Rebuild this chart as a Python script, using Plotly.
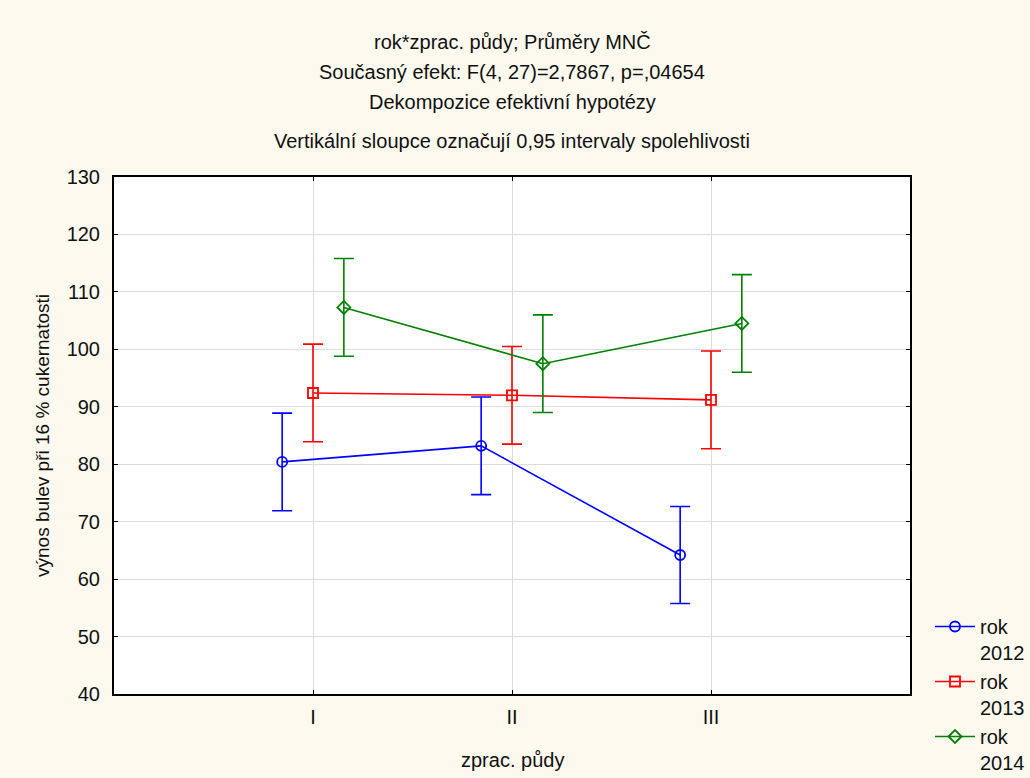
import plotly.graph_objects as go

# Soil-treatment levels and yearly least-squares means with 0.95 CI half-widths
categories = ["I", "II", "III"]
years = ["2012", "2013", "2014"]
means_2012 = [80.4, 83.2, 64.2]
means_2013 = [92.4, 92.0, 91.2]
means_2014 = [107.3, 97.5, 104.5]
ci_2012 = [8.5, 8.5, 8.45]
ci_2013 = [8.5, 8.5, 8.5]
ci_2014 = [8.5, 8.5, 8.5]
y_ticks = [40, 50, 60, 70, 80, 90, 100, 110, 120, 130]

series_means = [means_2012, means_2013, means_2014]
series_ci = [ci_2012, ci_2013, ci_2014]
colors = ["#0000FF", "#FF0000", "#008000"]
symbols = ["circle-open", "square-open", "diamond-open"]
dodge = [-0.155, 0.0, 0.155]

FONT = "Liberation Sans, Arial, sans-serif"

fig = go.Figure()
base_x = list(range(1, len(categories) + 1))
for year, means, ci, color, sym, dx in zip(years, series_means, series_ci,
                                           colors, symbols, dodge):
    fig.add_trace(go.Scatter(
        x=[b + dx for b in base_x],
        y=means,
        mode="lines+markers",
        name="rok<br>" + year,
        line=dict(color=color, width=1.6),
        marker=dict(symbol=sym, size=10, color=color,
                    line=dict(color=color, width=1.8)),
        error_y=dict(type="data", array=ci, visible=True,
                     color=color, thickness=1.6, width=10),
    ))

W, H = 1030, 778
L, R, T, B = 114, 120, 177, 84
plot_w = W - L - R
plot_h = H - T - B


def py(pix):
    # convert a pixel row to paper coordinates
    return (H - B - pix) / plot_h


def px(pix):
    # convert a pixel column to paper coordinates
    return (pix - L) / plot_w


titles = [
    ("rok*zprac. půdy; Průměry MNČ", 42),
    ("Současný efekt: F(4, 27)=2,7867, p=,04654", 72),
    ("Dekompozice efektivní hypotézy", 102),
    ("Vertikální sloupce označují 0,95 intervaly spolehlivosti", 141),
]
for text, row in titles:
    fig.add_annotation(text=text, x=0.5, y=py(row), xref="paper", yref="paper",
                       xanchor="center", yanchor="middle", showarrow=False,
                       font=dict(family=FONT, size=20, color="#111111"))

# axis titles placed as free text so their rows stay fixed
fig.add_annotation(text="zprac. půdy", x=0.5, y=py(760), xref="paper",
                   yref="paper", xanchor="center", yanchor="middle",
                   showarrow=False, font=dict(family=FONT, size=20, color="#111111"))
fig.add_annotation(text="výnos bulev při 16 % cukernatosti", x=px(42),
                   y=py(436), xref="paper", yref="paper", xanchor="center",
                   yanchor="middle", textangle=-90, showarrow=False,
                   font=dict(family=FONT, size=19, color="#111111"))

fig.update_layout(
    width=W, height=H,
    margin=dict(l=L, r=R, t=T, b=B, autoexpand=False),
    paper_bgcolor="#FDF9EF",
    plot_bgcolor="#FFFFFF",
    font=dict(family=FONT, size=19, color="#111111"),
    showlegend=True,
    legend=dict(x=px(930), y=py(607), xanchor="left", yanchor="top",
                bgcolor="rgba(0,0,0,0)", valign="top",
                font=dict(family=FONT, size=20, color="#111111"),
                tracegroupgap=2, itemwidth=40),
)

fig.update_xaxes(
    range=[0, 4],
    tickmode="array", tickvals=base_x, ticktext=categories,
    showgrid=True, gridcolor="#DCDCDC", gridwidth=1,
    zeroline=False,
    showline=True, linecolor="#000000", linewidth=2, mirror="ticks",
    ticks="inside", ticklen=4, tickcolor="#000000",
    tickfont=dict(family=FONT, size=20), ticklabelstandoff=4,
)
fig.update_yaxes(
    range=[40, 130],
    tickmode="array", tickvals=y_ticks,
    showgrid=True, gridcolor="#DCDCDC", gridwidth=1,
    zeroline=False,
    showline=True, linecolor="#000000", linewidth=2, mirror="ticks",
    ticks="inside", ticklen=4, tickcolor="#000000",
    tickfont=dict(family=FONT, size=20), ticklabelstandoff=8,
)

fig.write_html("out.html")
